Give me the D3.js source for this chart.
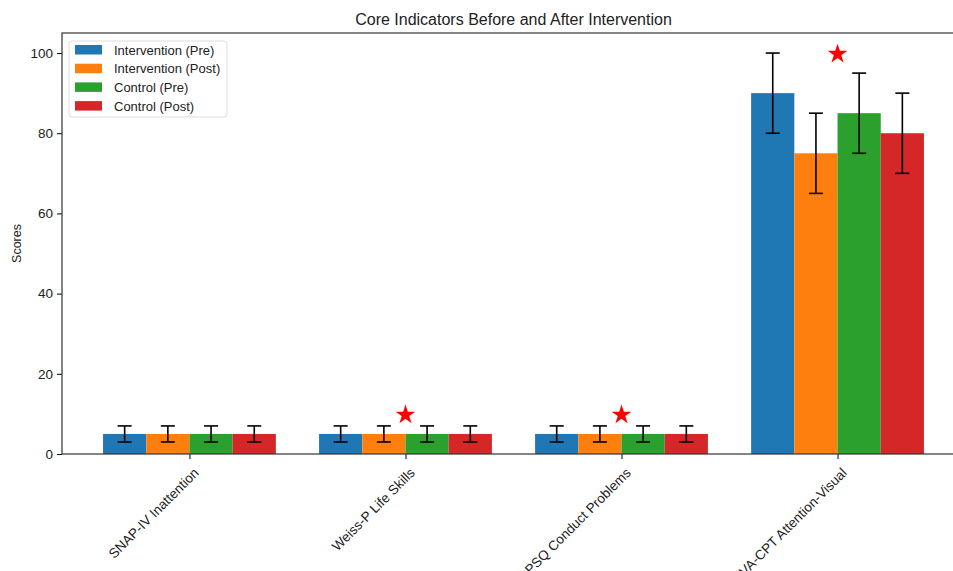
<!DOCTYPE html>
<html>
<head>
<meta charset="utf-8">
<script src="https://cdn.jsdelivr.net/npm/d3@7"></script>
<style>
  body { margin: 0; background: #fff; }
  svg { display: block; font-family: "Liberation Sans", "DejaVu Sans", sans-serif; }
</style>
</head>
<body>
<script>
// data
var categories = ["SNAP-IV Inattention", "Weiss-P Life Skills", "PSQ  Conduct Problems", "IVA-CPT Attention-Visual"];
var groups = ["Intervention (Pre)", "Intervention (Post)", "Control (Pre)", "Control (Post)"];
var colors = ["#1f77b4", "#ff7f0e", "#2ca02c", "#d62728"];
var interventionPre = [5, 5, 5, 90];
var interventionPost = [5, 5, 5, 75];
var controlPre = [5, 5, 5, 85];
var controlPost = [5, 5, 5, 80];
var errInterventionPre = [2, 2, 2, 10];
var errInterventionPost = [2, 2, 2, 10];
var errControlPre = [2, 2, 2, 10];
var errControlPost = [2, 2, 2, 10];
var starValues = [null, 10, 10, 100]; // significance markers
var yTicks = [0, 20, 40, 60, 80, 100];

var values = [interventionPre, interventionPost, controlPre, controlPost];
var errors = [errInterventionPre, errInterventionPost, errControlPre, errControlPost];

var W = 953, H = 571;
var margin = {left: 62, top: 33, right: 965, bottom: 454};

var svg = d3.select("body").append("svg").attr("width", W).attr("height", H);

// x in category units, like matplotlib's bar positions
var barW = 0.2;
var x = d3.scaleLinear().domain([-0.59, 3.59]).range([margin.left, margin.right]);
var y = d3.scaleLinear().domain([0, 105]).range([margin.bottom, margin.top]);

// flatten bars
var bars = [];
values.forEach(function(series, gi) {
  series.forEach(function(v, ci) {
    bars.push({g: gi, c: ci, v: v, e: errors[gi][ci], pos: ci + (gi - 1.5) * barW});
  });
});

svg.selectAll("rect.bar").data(bars).enter().append("rect")
  .attr("class", "bar")
  .attr("x", function(d) { return x(d.pos - barW / 2); })
  .attr("width", function(d) { return x(d.pos + barW / 2) - x(d.pos - barW / 2); })
  .attr("y", function(d) { return y(d.v); })
  .attr("height", function(d) { return y(0) - y(d.v); })
  .attr("fill", function(d) { return colors[d.g]; });

// error bars
var eb = svg.selectAll("g.err").data(bars).enter().append("g").attr("class", "err")
  .attr("stroke", "#000").attr("stroke-width", 1.6);
eb.append("line")
  .attr("x1", function(d) { return x(d.pos); }).attr("x2", function(d) { return x(d.pos); })
  .attr("y1", function(d) { return y(d.v - d.e); }).attr("y2", function(d) { return y(d.v + d.e); });
eb.append("line")
  .attr("x1", function(d) { return x(d.pos) - 7; }).attr("x2", function(d) { return x(d.pos) + 7; })
  .attr("y1", function(d) { return y(d.v + d.e); }).attr("y2", function(d) { return y(d.v + d.e); });
eb.append("line")
  .attr("x1", function(d) { return x(d.pos) - 7; }).attr("x2", function(d) { return x(d.pos) + 7; })
  .attr("y1", function(d) { return y(d.v - d.e); }).attr("y2", function(d) { return y(d.v - d.e); });

// stars
var star = d3.symbol().type(d3.symbolStar).size(120);
svg.selectAll("path.star").data(starValues.map(function(v, i) { return {c: i, v: v}; })
    .filter(function(d) { return d.v !== null; }))
  .enter().append("path")
  .attr("class", "star")
  .attr("d", star)
  .attr("fill", "red")
  .attr("transform", function(d) { return "translate(" + x(d.c) + "," + (y(d.v) + 1) + ")"; });

// axes
var yAxis = d3.axisLeft(y).tickValues(yTicks).tickSize(5).tickPadding(4);
svg.append("g").attr("transform", "translate(" + margin.left + ",0)").call(yAxis)
  .call(function(g) { g.select(".domain").remove(); })
  .selectAll("text").attr("font-size", 13.5).attr("fill", "#222");

var xAxis = d3.axisBottom(x).tickValues([0, 1, 2, 3]).tickFormat(function(d) { return categories[d]; })
  .tickSize(5).tickPadding(4);
svg.append("g").attr("transform", "translate(0," + margin.bottom + ")").call(xAxis)
  .call(function(g) { g.select(".domain").remove(); })
  .selectAll("text")
  .attr("font-size", 13.5).attr("fill", "#222")
  .attr("text-anchor", "end")
  .attr("dy", "0.35em")
  .attr("transform", "translate(0,10) rotate(-45)");

// frame
svg.append("rect")
  .attr("x", margin.left).attr("y", margin.top)
  .attr("width", margin.right - margin.left).attr("height", margin.bottom - margin.top)
  .attr("fill", "none").attr("stroke", "#333").attr("stroke-width", 1.2);

// title and label
svg.append("text").attr("x", (margin.left + margin.right) / 2).attr("y", 25)
  .attr("text-anchor", "middle").attr("font-size", 16).attr("fill", "#222")
  .text("Core Indicators Before and After Intervention");

svg.append("text")
  .attr("transform", "translate(21," + ((margin.top + margin.bottom) / 2) + ") rotate(-90)")
  .attr("text-anchor", "middle").attr("font-size", 12.5).attr("fill", "#222")
  .text("Scores");

// legend
var leg = svg.append("g").attr("transform", "translate(69,41)");
leg.append("rect").attr("width", 158).attr("height", 76).attr("rx", 3)
  .attr("fill", "#fff").attr("fill-opacity", 0.8).attr("stroke", "#ddd");
var items = leg.selectAll("g.item").data(groups).enter().append("g")
  .attr("transform", function(d, i) { return "translate(6," + (4 + i * 18.7) + ")"; });
items.append("rect").attr("width", 27).attr("height", 9.5).attr("fill", function(d, i) { return colors[i]; });
items.append("text").attr("x", 39).attr("y", 5).attr("dy", "0.35em")
  .attr("font-size", 13).attr("fill", "#222").text(function(d) { return d; });
</script>
</body>
</html>
